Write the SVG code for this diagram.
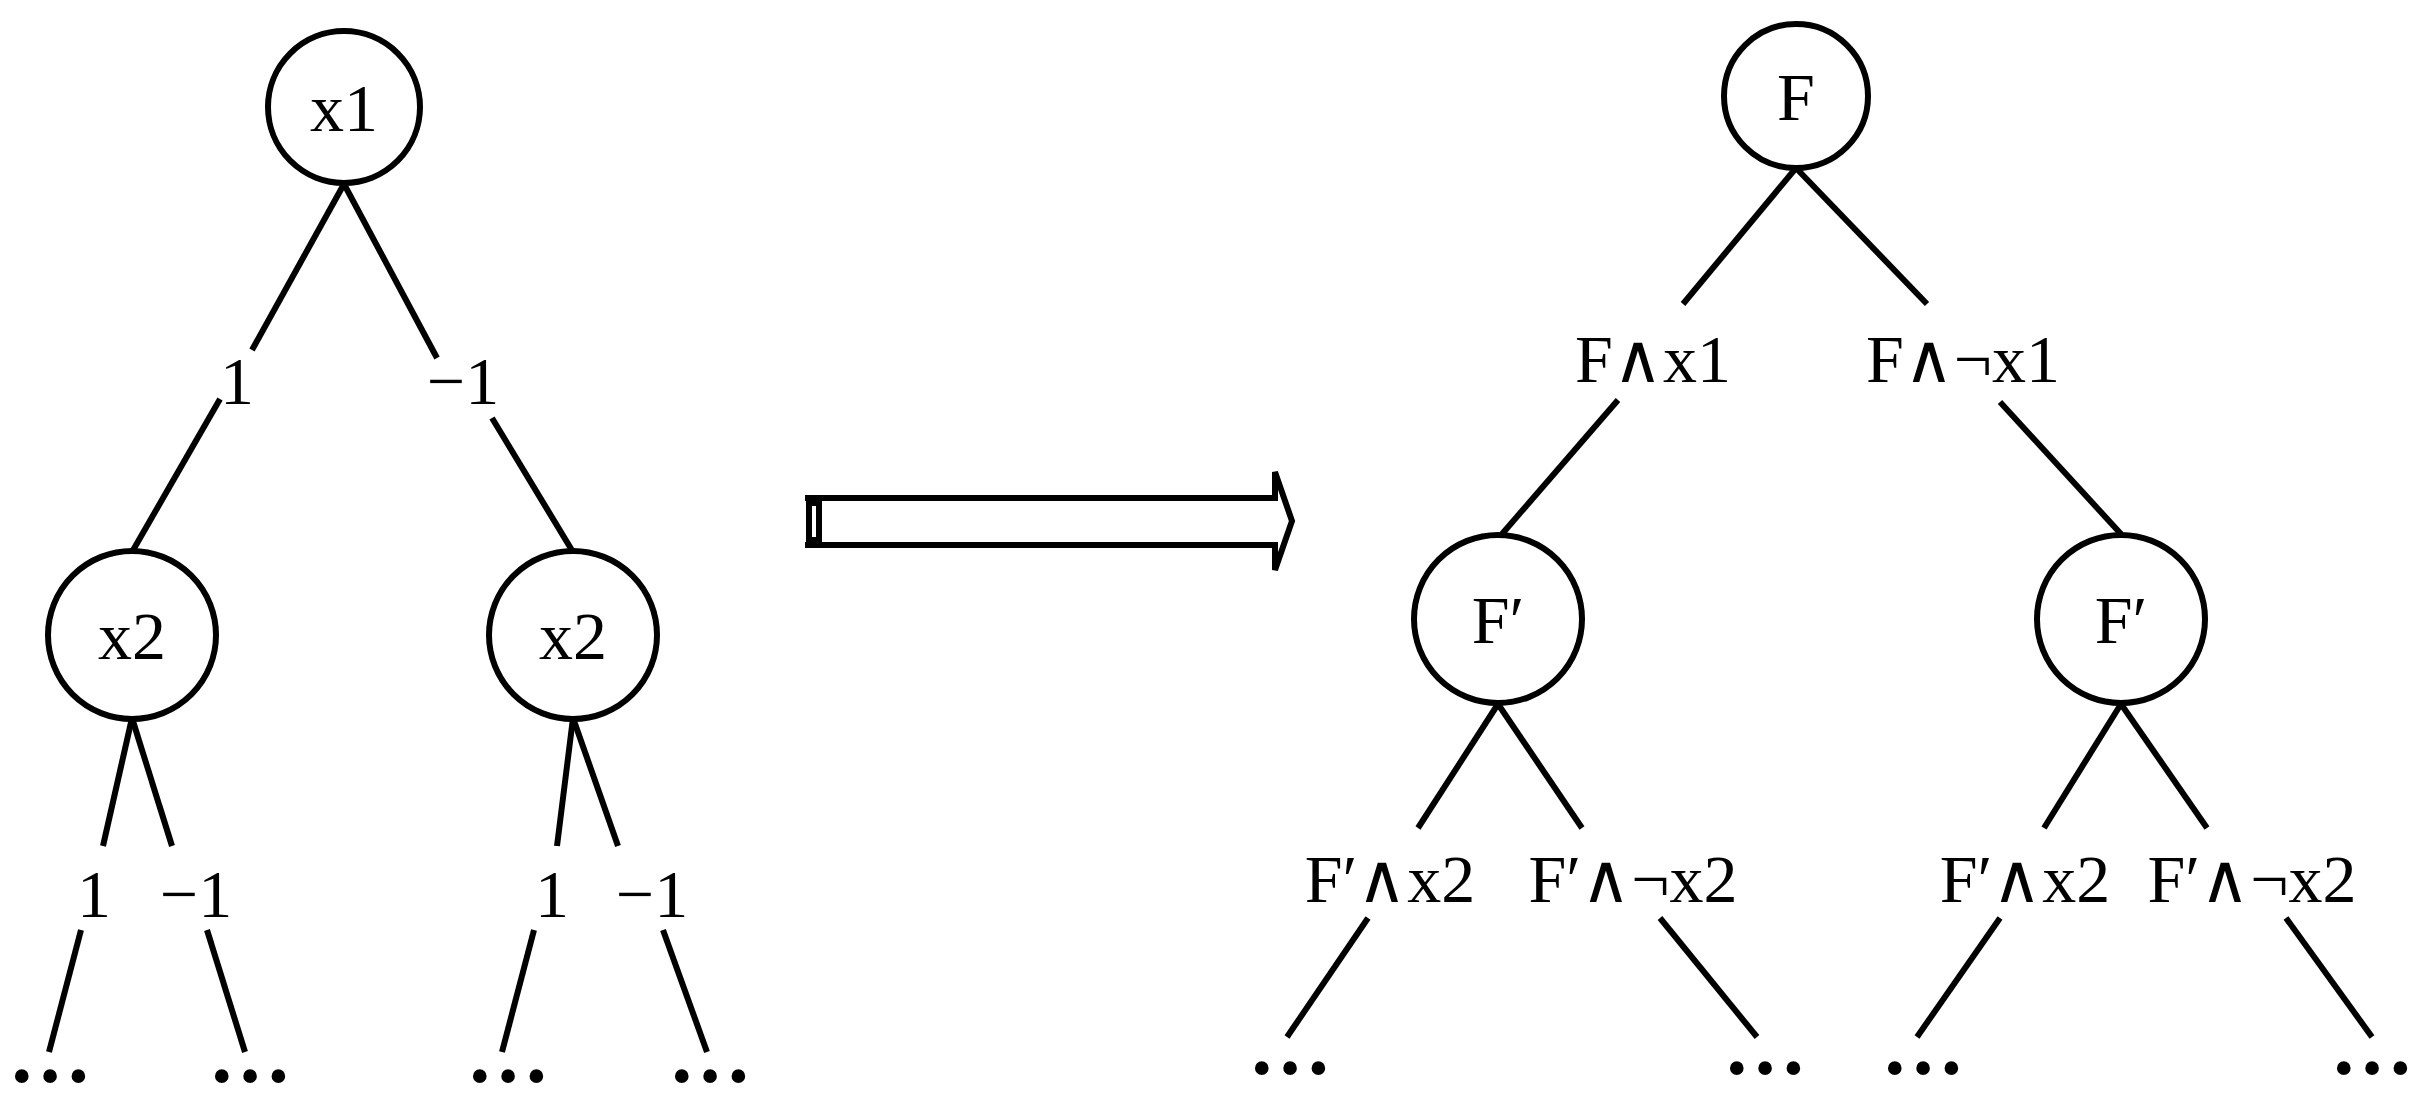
<svg xmlns="http://www.w3.org/2000/svg" width="2428" height="1110" viewBox="0 0 2428 1110">
<style>
.n{fill:#fff;stroke:#000;stroke-width:6}
.e line{stroke:#000;stroke-width:6}
text{font-family:"Liberation Serif",serif;font-size:68px;fill:#000;text-anchor:middle}
.d{font-size:84px;font-weight:bold}
</style>
<rect width="2428" height="1110" fill="#fff"/>
<g class="e" id="connectors">
<line x1="344" y1="184" x2="252" y2="350"/><line x1="220" y1="399" x2="132" y2="552"/>
<line x1="344" y1="184" x2="437" y2="358"/><line x1="492" y1="418" x2="573" y2="552"/>
<line x1="132" y1="718" x2="103" y2="846"/><line x1="81" y1="930" x2="49" y2="1052"/>
<line x1="132" y1="718" x2="172" y2="846"/><line x1="207" y1="930" x2="245" y2="1052"/>
<line x1="573" y1="718" x2="557" y2="846"/><line x1="534" y1="930" x2="502" y2="1052"/>
<line x1="573" y1="718" x2="618" y2="846"/><line x1="663" y1="930" x2="707" y2="1052"/>
<line x1="1796" y1="168" x2="1683" y2="304"/><line x1="1618" y1="400" x2="1502" y2="534"/>
<line x1="1796" y1="168" x2="1927" y2="304"/><line x1="2000" y1="402" x2="2121" y2="534"/>
<line x1="1498" y1="704" x2="1418" y2="828"/><line x1="1368" y1="918" x2="1287" y2="1037"/>
<line x1="1498" y1="704" x2="1582" y2="828"/><line x1="1660" y1="918" x2="1757" y2="1037"/>
<line x1="2121" y1="704" x2="2044" y2="828"/><line x1="2000" y1="918" x2="1917" y2="1037"/>
<line x1="2121" y1="704" x2="2207" y2="828"/><line x1="2286" y1="918" x2="2372" y2="1037"/>
</g>
<g id="lbl-left">
<text x="237" y="404">1</text><text x="463" y="404">−1</text>
<text x="94" y="917">1</text><text x="196" y="917">−1</text>
<text x="552" y="917">1</text><text x="652" y="917">−1</text>
<text class="d" x="50" y="1082">…</text><text class="d" x="250" y="1082">…</text>
<text class="d" x="508" y="1082">…</text><text class="d" x="710" y="1082">…</text>
</g>
<g id="lbl-right">
<text x="1653" y="382">F∧x1</text><text x="1963" y="382">F∧¬x1</text>
<text x="1390" y="902">F′∧x2</text><text x="1633" y="902">F′∧¬x2</text>
<text x="2025" y="902">F′∧x2</text><text x="2252" y="902">F′∧¬x2</text>
<text class="d" x="1290" y="1074">…</text><text class="d" x="1765" y="1074">…</text>
<text class="d" x="1923" y="1074">…</text><text class="d" x="2372" y="1074">…</text>
</g>
<g id="x1"><circle class="n" cx="344" cy="107" r="76"/><text x="344" y="131">x1</text></g>
<g id="x2a"><circle class="n" cx="132" cy="635" r="84"/><text x="132" y="659">x2</text></g>
<g id="x2b"><circle class="n" cx="573" cy="635" r="84"/><text x="573" y="659">x2</text></g>
<g id="F"><circle class="n" cx="1796" cy="96" r="72"/><text x="1796" y="120">F</text></g>
<g id="Fa"><circle class="n" cx="1498" cy="619" r="84"/><text x="1498" y="643">F′</text></g>
<g id="Fb"><circle class="n" cx="2121" cy="619" r="84"/><text x="2121" y="643">F′</text></g>
<g id="arrow" fill="none" stroke="#000" stroke-width="6">
<path d="M805 498 H1275 V472 L1292 521 L1275 570 V545 H805"/>
<rect x="809" y="503" width="10" height="37"/>
</g>
</svg>
